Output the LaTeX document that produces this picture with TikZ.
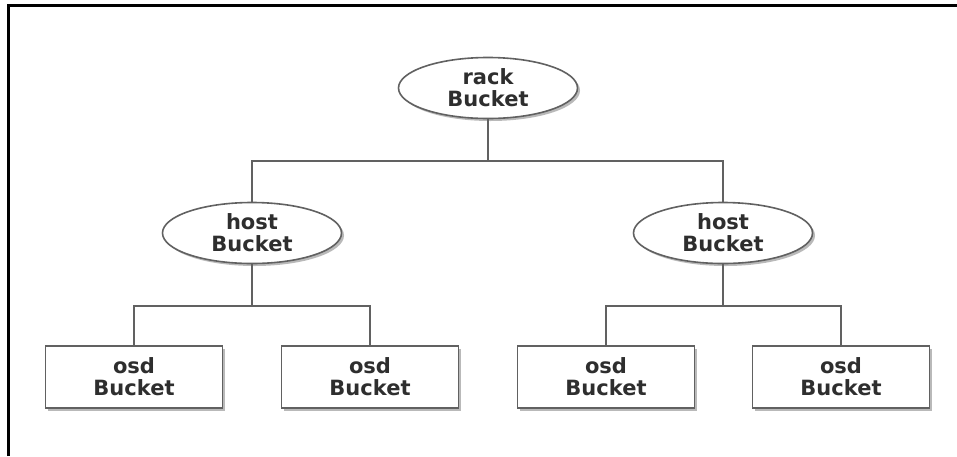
\documentclass[tikz,border=0pt]{standalone}
\usepackage{fontspec}
\setmainfont{DejaVu Sans}
\usetikzlibrary{shapes.geometric,shadows,positioning}

\begin{document}
\begin{tikzpicture}[
  x=1pt, y=-1pt,
  bucket/.style={font=\bfseries\fontsize{21}{22}\selectfont, text=black!82,
    align=center, draw=black!62, line width=1.6pt, fill=white,
    drop shadow={shadow xshift=2.5pt, shadow yshift=-2.5pt,
      fill=black!50, opacity=0.55}},
  hub/.style={bucket, ellipse, minimum width=179pt, minimum height=61pt,
    inner sep=0pt},
  leaf/.style={bucket, rectangle, minimum width=177pt, minimum height=62pt},
  wire/.style={draw=black!62, line width=1.5pt}
]
\useasboundingbox (0,0) rectangle (957,456);

% Frame
\draw[line width=3pt] (8,456) -- (8,5) -- (957,5);

% Rack and hosts
\node[hub] (rack) at (488,88) {rack\\Bucket};
\node[hub] (hostA) at (252,233) {host\\Bucket};
\node[hub] (hostB) at (723,233) {host\\Bucket};

% OSDs
\node[leaf] (osdA) at (134,377) {osd\\Bucket};
\node[leaf] (osdB) at (370,377) {osd\\Bucket};
\node[leaf] (osdC) at (606,377) {osd\\Bucket};
\node[leaf] (osdD) at (841,377) {osd\\Bucket};

% Tree links
\draw[wire] (rack.south) -- ++(0,41.5) -| (hostA.north);
\draw[wire] (rack.south) -- ++(0,41.5) -| (hostB.north);
\draw[wire] (hostA.south) -- ++(0,41.5) -| (osdA.north);
\draw[wire] (hostA.south) -- ++(0,41.5) -| (osdB.north);
\draw[wire] (hostB.south) -- ++(0,41.5) -| (osdC.north);
\draw[wire] (hostB.south) -- ++(0,41.5) -| (osdD.north);

\end{tikzpicture}
\end{document}
